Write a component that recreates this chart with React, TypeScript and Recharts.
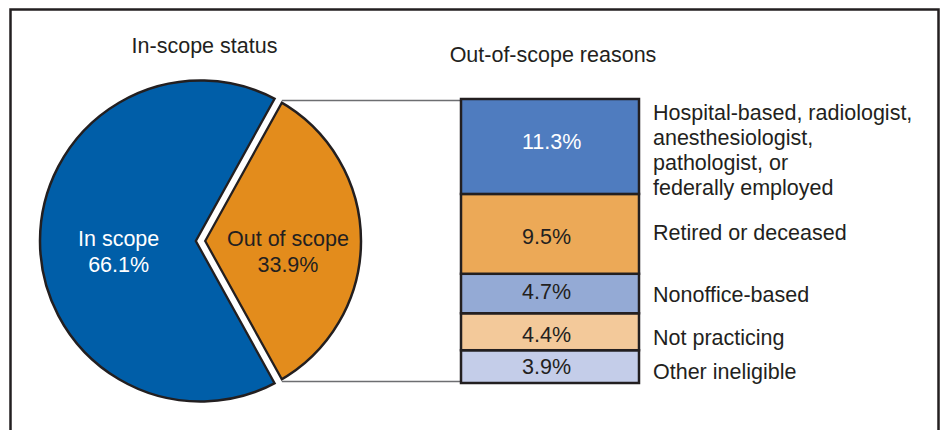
import { PieChart, Pie, Cell, BarChart, Bar, XAxis, YAxis } from 'recharts'

// left panel: in-scope status (share of all sampled physicians, %)
const scopeNames = ['Out of scope', 'In scope']
const scopeShares = [33.9, 66.1]

// right panel: out-of-scope reasons, top of the stack first
const reasonKeys = ['hospital', 'retired', 'nonoffice', 'notPracticing', 'other']
const reasonLabels = [
  ['Hospital-based, radiologist,', 'anesthesiologist,', 'pathologist, or', 'federally employed'],
  ['Retired or deceased'],
  ['Nonoffice-based'],
  ['Not practicing'],
  ['Other ineligible'],
]
const reasonShares = [11.3, 9.5, 4.7, 4.4, 3.9]

const INK = '#231f20'
const FONT = '"Liberation Sans", Arial, Helvetica, sans-serif'
const FS = 21.5
const CAP = 15.4
const LINE_H = 25

const SCOPE_COLORS = ['#e38c1c', '#005ea8']
const SCOPE_TEXT = [INK, '#ffffff']
const SCOPE_LABEL_R = [0.545, 0.51]
const REASON_COLORS = ['#4f7cbf', '#eca957', '#94aad5', '#f3c99a', '#c4cde9']
// small vertical nudges so the labels sit where the original typesetter put them
const VALUE_NUDGE = [-5, 2, -2, 2.5, 0]
const SIDE_NUDGE = [3, -2, 1, 5.5, 4.5]

const PIE_CX = 200.5
const PIE_CY = 241
const PIE_R = 160.5
const BAR_LEFT = 461

const pieData = scopeNames.map((name, i) => ({ name, value: scopeShares[i] }))
const barRow: Record<string, number | string> = { name: 'Out-of-scope' }
reasonKeys.forEach((k, i) => { barRow[k] = reasonShares[i] })
const barData = [barRow]
const reasonTotal = Math.round(reasonShares.reduce((a, b) => a + b, 0) * 10) / 10

const outHalf = (scopeShares[0] / (scopeShares[0] + scopeShares[1])) * 180

function ScopeLabel(p: any) {
  const { cx, cy, midAngle, outerRadius, percent, index, name, value } = p
  const rad = Math.PI / 180
  const x = cx + outerRadius * SCOPE_LABEL_R[index] * Math.cos(-midAngle * rad)
  let extra = null
  if (index === 0) {
    const half = percent * 180
    const pt = (a: number, r: number) => [cx + r * Math.cos(-a * rad), cy + r * Math.sin(-a * rad)]
    const [x1, y1] = pt(midAngle + half, outerRadius)
    const [x2, y2] = pt(midAngle - half, outerRadius)
    const [wx1, wy1] = pt(midAngle + half, outerRadius + 3)
    const [wx2, wy2] = pt(midAngle - half, outerRadius + 3)
    extra = (
      <g>
        <line x1={x1} y1={y1} x2={BAR_LEFT} y2={y1} stroke="#6d6e71" strokeWidth={1.5} />
        <line x1={x2} y1={y2} x2={BAR_LEFT} y2={y2} stroke="#6d6e71" strokeWidth={1.5} />
        <polyline points={`${x1},${y1} ${cx},${cy} ${x2},${y2}`} fill="none"
          stroke={INK} strokeWidth={10.5} strokeLinejoin="miter" strokeMiterlimit={10} />
        <polyline points={`${wx1},${wy1} ${cx},${cy} ${wx2},${wy2}`} fill="none"
          stroke="#ffffff" strokeWidth={5.9} strokeLinejoin="miter" strokeMiterlimit={10} />
      </g>
    )
  }
  return (
    <g>
      {extra}
      <text textAnchor="middle" fill={SCOPE_TEXT[index]} fontSize={FS} fontFamily={FONT}>
        <tspan x={x} y={cy + 5}>{name}</tspan>
        <tspan x={x} y={cy + 31}>{value}%</tspan>
      </text>
    </g>
  )
}

function ReasonBlock(props: any) {
  const { x, y, width, height, idx } = props
  const mid = y + height / 2
  const lines = reasonLabels[idx]
  const first = mid + SIDE_NUDGE[idx] + CAP / 2 - ((lines.length - 1) * LINE_H) / 2
  return (
    <g>
      <rect x={x} y={y} width={width} height={height} fill={REASON_COLORS[idx]} stroke={INK} strokeWidth={2.5} />
      <text x={x + width / 2 - 28} y={mid + VALUE_NUDGE[idx] + CAP / 2}
        fill={idx === 0 ? '#ffffff' : INK} fontSize={FS} fontFamily={FONT}>
        {reasonShares[idx]}%
      </text>
      <text fill={INK} fontSize={FS} fontFamily={FONT}>
        {lines.map((l, j) => (
          <tspan key={j} x={x + width + 14} y={first + j * LINE_H}>{l}</tspan>
        ))}
      </text>
    </g>
  )
}

export default function App() {
  const stackOrder = reasonKeys.map((_, i) => i).reverse()
  return (
    <div style={{ position: 'absolute', left: 0, top: 0, width: 941, height: 430, overflow: 'hidden', background: '#fff' }}>
      <svg width={941} height={430} style={{ position: 'absolute', left: 0, top: 0 }}>
        <rect x={10.5} y={9.5} width={928} height={500} fill="none" stroke={INK} strokeWidth={2.5} />
        <text x={204.5} y={53.3} textAnchor="middle" fill={INK} fontSize={FS} fontFamily={FONT}>In-scope status</text>
        <text x={553} y={62.3} textAnchor="middle" fill={INK} fontSize={FS} fontFamily={FONT}>Out-of-scope reasons</text>
      </svg>

      <div style={{ position: 'absolute', left: 0, top: 0 }}>
        <PieChart width={941} height={430} margin={{ top: 0, right: 0, bottom: 0, left: 0 }}>
          <Pie
            data={pieData}
            dataKey="value"
            nameKey="name"
            cx={PIE_CX}
            cy={PIE_CY}
            outerRadius={PIE_R}
            startAngle={outHalf}
            endAngle={outHalf - 360}
            stroke={INK}
            strokeWidth={2.5}
            label={ScopeLabel}
            labelLine={false}
            isAnimationActive={false}
          >
            {pieData.map((d, i) => (
              <Cell key={d.name} fill={SCOPE_COLORS[i]} />
            ))}
          </Pie>
        </PieChart>
      </div>

      <div style={{ position: 'absolute', left: 456, top: 94 }}>
        <BarChart width={485} height={294} data={barData} barCategoryGap={0}
          margin={{ top: 5, right: 302, bottom: 5, left: 5 }}>
          <XAxis dataKey="name" hide />
          <YAxis hide domain={[0, reasonTotal]} />
          {stackOrder.map(i => (
            <Bar key={reasonKeys[i]} dataKey={reasonKeys[i]} stackId="reasons" fill={REASON_COLORS[i]}
              isAnimationActive={false} shape={(p: any) => <ReasonBlock {...p} idx={i} />} />
          ))}
        </BarChart>
      </div>
    </div>
  )
}
